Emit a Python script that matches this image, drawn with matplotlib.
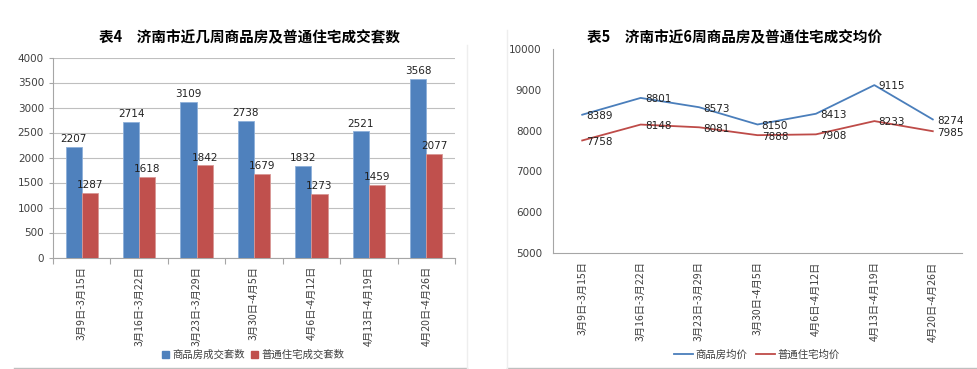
import matplotlib
matplotlib.use("Agg")
import matplotlib.pyplot as plt
from matplotlib.lines import Line2D
from matplotlib.patches import Patch

plt.rcParams['font.family'] = ['Noto Sans CJK SC', 'DejaVu Sans']

categories = ["3月9日-3月15日", "3月16日-3月22日", "3月23日-3月29日", "3月30日-4月5日",
              "4月6日-4月12日", "4月13日-4月19日", "4月20日-4月26日"]
commercial_count = [2207, 2714, 3109, 2738, 1832, 2521, 3568]
ordinary_count = [1287, 1618, 1842, 1679, 1273, 1459, 2077]
commercial_price = [8389, 8801, 8573, 8150, 8413, 9115, 8274]
ordinary_price = [7758, 8148, 8081, 7888, 7908, 8233, 7985]

title_left = "表4　济南市近几周商品房及普通住宅成交套数"
title_right = "表5　济南市近6周商品房及普通住宅成交均价"
legend_left = ["商品房成交套数", "普通住宅成交套数"]
legend_right = ["商品房均价", "普通住宅均价"]

W, H = 978, 369
fig = plt.figure(figsize=(W / 100, H / 100), dpi=100)

def ax_px(x0, y_top, w, h):
    return fig.add_axes([x0 / W, (H - y_top - h) / H, w / W, h / H])

blue = "#4F81BD"
red = "#C0504D"
grid_c = "#BFBFBF"
axis_c = "#A6A6A6"
tick_fs = 7.5
txt_c = "#404040"

# ---------- left chart ----------
ax1 = ax_px(53, 57.5, 402, 200)
x = list(range(len(categories)))
bw = 0.28
b1 = ax1.bar([i - bw / 2 for i in x], commercial_count, width=bw, color=blue,
             edgecolor="#8EB0DA", linewidth=0.6, zorder=3)
b2 = ax1.bar([i + bw / 2 for i in x], ordinary_count, width=bw, color=red,
             edgecolor="#D99795", linewidth=0.6, zorder=3)
for rect, v in zip(b1, commercial_count):
    ax1.annotate(str(v), (rect.get_x() + rect.get_width() / 2, v), xytext=(0, 2),
                 textcoords="offset points", ha="center", va="bottom",
                 fontsize=tick_fs, color="#222222", family="DejaVu Sans")
for rect, v in zip(b2, ordinary_count):
    ax1.annotate(str(v), (rect.get_x() + rect.get_width() / 2, v), xytext=(0, 2),
                 textcoords="offset points", ha="center", va="bottom",
                 fontsize=tick_fs, color="#222222", family="DejaVu Sans")
ax1.set_xlim(-0.5, len(categories) - 0.5)
ax1.set_ylim(0, 4000)
ax1.set_yticks(range(0, 4001, 500))
ax1.yaxis.grid(True, color=grid_c, linewidth=0.8, zorder=0)
ax1.set_axisbelow(True)
for s in ["top", "right"]:
    ax1.spines[s].set_visible(False)
ax1.spines["left"].set_color(axis_c)
ax1.spines["bottom"].set_color(axis_c)
ax1.set_xticks([i - 0.5 for i in range(len(categories) + 1)], minor=False)
ax1.set_xticklabels([])
ax1.set_xticks(x, minor=True)
ax1.set_xticklabels(categories, minor=True, rotation=90, fontsize=tick_fs, color=txt_c)
ax1.tick_params(axis="x", which="major", length=4, color=axis_c)
ax1.tick_params(axis="x", which="minor", length=0, pad=6)
ax1.tick_params(axis="y", length=3, color=axis_c, labelsize=tick_fs, labelcolor=txt_c)
for lab in ax1.get_yticklabels():
    lab.set_family("DejaVu Sans")
fig.text(250 / W, 1 - 37 / H, title_left, ha="center", va="center",
         fontsize=10.5, fontweight="bold")
fig.legend(handles=[Patch(color=blue, label=legend_left[0]), Patch(color=red, label=legend_left[1])],
           loc="center", bbox_to_anchor=(253 / W, 1 - 355 / H), ncol=2, frameon=False,
           fontsize=7.5, handlelength=0.7, handleheight=0.7, handletextpad=0.3, columnspacing=0.6,
           labelcolor=txt_c)

# ---------- right chart ----------
ax2 = ax_px(553, 49, 409, 204)
ax2.plot(x, commercial_price, color="#4A7EBB", linewidth=1.3)
ax2.plot(x, ordinary_price, color="#BE4B48", linewidth=1.3)
for i, v in enumerate(commercial_price):
    ax2.annotate(str(v), (i, v), xytext=(3, -1), textcoords="offset points", ha="left",
                 va="center", fontsize=tick_fs, color="#222222", family="DejaVu Sans")
for i, v in enumerate(ordinary_price):
    ax2.annotate(str(v), (i, v), xytext=(3, -1), textcoords="offset points", ha="left",
                 va="center", fontsize=tick_fs, color="#222222", family="DejaVu Sans")
ax2.set_xlim(-0.5, len(categories) - 0.5)
ax2.set_ylim(5000, 10000)
ax2.set_yticks(range(5000, 10001, 1000))
for s in ["top", "right"]:
    ax2.spines[s].set_visible(False)
ax2.spines["left"].set_color(axis_c)
ax2.spines["bottom"].set_color(axis_c)
ax2.set_xticks(x)
ax2.set_xticklabels(categories, rotation=90, fontsize=tick_fs, color=txt_c)
ax2.tick_params(axis="x", length=0, pad=6)
ax2.tick_params(axis="y", length=0, pad=8, labelsize=tick_fs, labelcolor=txt_c)
for lab in ax2.get_yticklabels():
    lab.set_family("DejaVu Sans")
fig.text(735 / W, 1 - 37 / H, title_right, ha="center", va="center",
         fontsize=10.5, fontweight="bold")
fig.legend(handles=[Line2D([], [], color="#4A7EBB", lw=1.3, label=legend_right[0]),
                    Line2D([], [], color="#BE4B48", lw=1.3, label=legend_right[1])],
           loc="center", bbox_to_anchor=(757 / W, 1 - 355 / H), ncol=2, frameon=False,
           fontsize=7.5, handlelength=1.8, handletextpad=0.3, columnspacing=0.8,
           labelcolor=txt_c)

# chart-area borders
fig.add_artist(Line2D([14 / W, 467 / W], [1 - 368 / H, 1 - 368 / H], color="#BFBFBF", lw=1))
fig.add_artist(Line2D([467 / W, 467 / W], [1 - 368 / H, 1 - 45 / H], color="#EEEEEE", lw=1))
fig.add_artist(Line2D([507 / W, 978 / W], [1 - 368 / H, 1 - 368 / H], color="#BFBFBF", lw=1))
fig.add_artist(Line2D([507 / W, 507 / W], [1 - 368 / H, 1 - 30 / H], color="#EEEEEE", lw=1))

fig.savefig("out.png", dpi=100)
